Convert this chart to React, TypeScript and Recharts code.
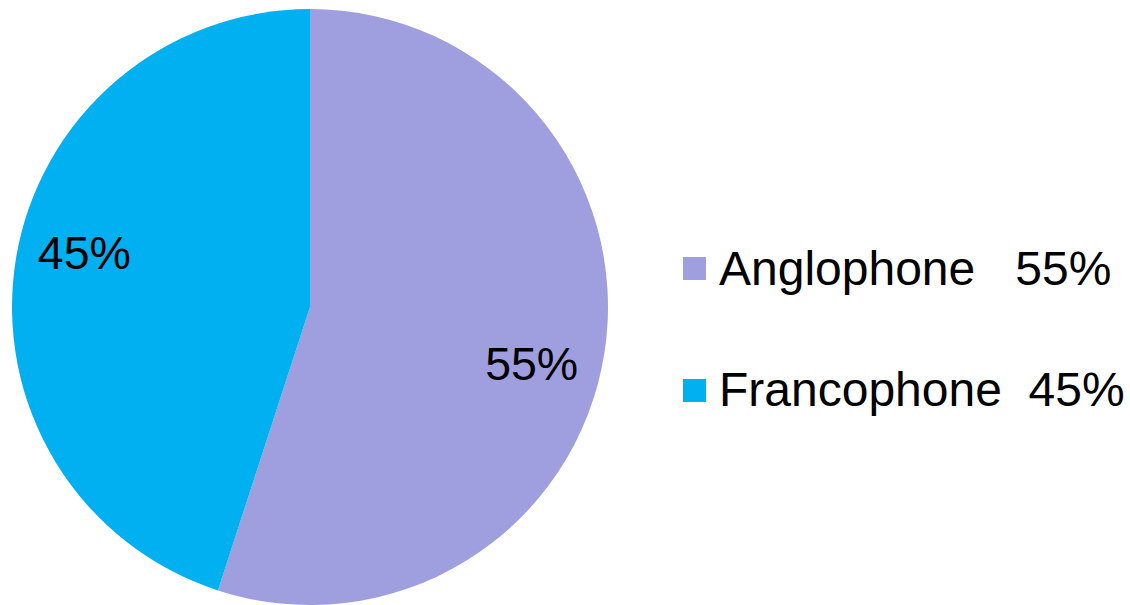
import React from "react";
import { Legend, Pie, PieChart, Cell } from "recharts";

const categories = ["Anglophone", "Francophone"];
const shares = [55, 45];
const legendGaps = ["   ", "  "];
const colors = ["#9F9FDF", "#00B0F0"];

const data = categories.map((name, i) => ({ name, value: shares[i] }));

const FONT = "'Liberation Sans', Arial, sans-serif";
const RAD = Math.PI / 180;

function renderLabel(props: any) {
  const { cx, cy, midAngle, outerRadius, value } = props;
  const r = outerRadius * 0.76;
  const s = Math.sin(-midAngle * RAD);
  const x = cx + r * Math.cos(-midAngle * RAD) - 2;
  const y = cy + r * s + (s > 0 ? 22 : -19);
  return (
    <text x={x} y={y} textAnchor="middle" dominantBaseline="central" fill="#000" fontSize={46.5} fontFamily={FONT}>
      {`${value}%`}
    </text>
  );
}

function renderLegend() {
  return (
    <div style={{ fontFamily: FONT, fontSize: 48, color: "#000" }}>
      {data.map((d, i) => (
        <div key={d.name} style={{ display: "flex", alignItems: "center", height: 47, marginBottom: i === 0 ? 74.5 : 0 }}>
          <span style={{ width: 23, height: 23, background: colors[i], marginRight: 13, flex: "none" }} />
          <span style={{ whiteSpace: "pre", lineHeight: 1 }}>{`${d.name}${legendGaps[i]}${d.value}%`}</span>
        </div>
      ))}
    </div>
  );
}

export default function App() {
  return (
    <div style={{ position: "absolute", left: 0, top: 0, width: 1130, height: 605, background: "#fff" }}>
      <PieChart width={1130} height={605} margin={{ top: 0, right: 0, bottom: 0, left: 0 }}>
        <Pie
          data={data}
          dataKey="value"
          nameKey="name"
          cx={310}
          cy={307}
          outerRadius={298}
          startAngle={90}
          endAngle={-270}
          stroke="none"
          label={renderLabel}
          labelLine={false}
          isAnimationActive={false}
        >
          {data.map((d, i) => (
            <Cell key={d.name} fill={colors[i]} />
          ))}
        </Pie>
        <Legend content={renderLegend} wrapperStyle={{ position: "absolute", left: 683, top: 245, width: 445, height: "auto" }} />
      </PieChart>
    </div>
  );
}
